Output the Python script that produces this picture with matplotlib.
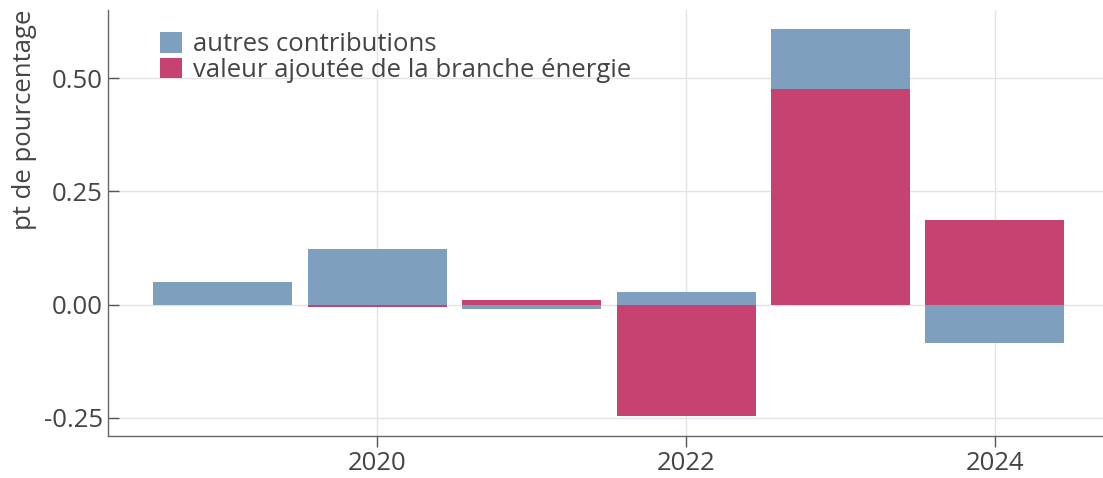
import numpy as np
import matplotlib.pyplot as plt
from matplotlib.patches import Patch

plt.rcParams['font.family'] = ['Open Sans', 'DejaVu Sans']

years = [2019, 2020, 2021, 2022, 2023, 2024]
energie = [-0.0015, -0.006, 0.011, -0.247, 0.477, 0.186]
autres = [0.050, 0.122, -0.010, 0.027, 0.131, -0.085]

y_ticks = [-0.25, 0.0, 0.25, 0.5]
y_labels = ['-0.25', '0.00', '0.25', '0.50']
x_ticks = [2020, 2022, 2024]

col_autres = '#7ea0be'
col_energie = '#c64270'
txt_col = '#444444'
fs = 18.5

fig = plt.figure(figsize=(11.03, 4.78), dpi=100)
ax = fig.add_axes([108.3 / 1103, 1 - 435.7 / 478, (1103 - 108.3) / 1103, (435.7 - 10) / 478])

# relative stacking: positives go up, negatives go down
pos = np.zeros(len(years))
neg = np.zeros(len(years))
for vals, col in [(energie, col_energie), (autres, col_autres)]:
    v = np.array(vals)
    bottom = np.where(v >= 0, pos, neg)
    ax.bar(years, v, bottom=bottom, width=0.9, color=col, linewidth=0, zorder=2)
    pos = pos + np.where(v >= 0, v, 0)
    neg = neg + np.where(v < 0, v, 0)

ax.set_xlim(2018.258, 2024.70)
ax.set_ylim(-0.290, 0.651)

ax.set_yticks(y_ticks)
ax.set_yticklabels(y_labels)
ax.set_xticks(x_ticks)
ax.set_xticklabels([str(x) for x in x_ticks])

ax.grid(True, color='#e3e3e3', linewidth=1.0, zorder=0)
ax.set_axisbelow(True)

for s in ['top', 'right']:
    ax.spines[s].set_visible(False)
for s in ['left', 'bottom']:
    ax.spines[s].set_color('#666666')
    ax.spines[s].set_linewidth(1.0)

ax.tick_params(axis='y', direction='in', length=8, width=1, color='#555555',
               labelsize=fs, labelcolor=txt_col, pad=4)
ax.tick_params(axis='x', direction='out', length=8, width=1, color='#555555',
               labelsize=fs, labelcolor=txt_col, pad=3)

fig.text(25 / 1103, 1 - 120 / 478, 'pt de pourcentage', rotation=90, ha='center', va='center',
         fontsize=fs, color=txt_col)

handles = [Patch(facecolor=col_autres, linewidth=0),
           Patch(facecolor=col_energie, linewidth=0)]
labels = ['autres contributions', 'valeur ajoutée de la branche énergie']
ax.legend(handles, labels, loc='upper left', bbox_to_anchor=(160 / 1103, 1 - 32 / 478),
          bbox_transform=fig.transFigure, frameon=False, fontsize=fs, labelcolor=txt_col,
          handlelength=0.86, handleheight=0.86, handletextpad=0.42, labelspacing=0.02,
          borderpad=0, borderaxespad=0)

fig.savefig('out.png', dpi=100)
